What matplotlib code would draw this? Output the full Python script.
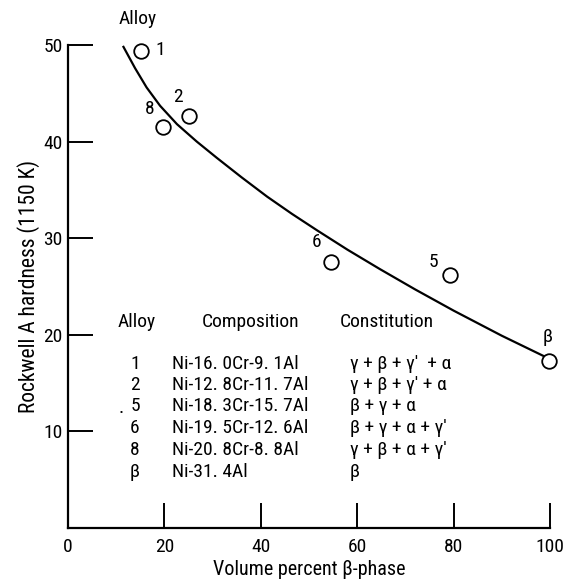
import matplotlib
matplotlib.use("Agg")
import matplotlib.pyplot as plt
from matplotlib import font_manager

# ---- data ----
alloy_ids = ["1", "8", "2", "6", "5", "β"]
vol_beta = [15.1, 19.7, 25.1, 54.6, 79.3, 99.8]
hardness = [49.4, 41.5, 42.6, 27.5, 26.2, 17.3]

curve_x = [11.5, 13.9, 16.3, 19.1, 22.6, 26.7, 30.9, 36, 41.3, 46.5, 51.7, 58, 64.7, 72, 80, 90, 99.5]
curve_y = [49.8, 47.6, 45.6, 43.7, 41.8, 40.0, 38.3, 36.3, 34.3, 32.5, 30.8, 28.8, 26.8, 24.7, 22.5, 19.9, 17.6]

table_alloy = ["1", "2", "5", "6", "8", "β"]
table_comp = ["Ni-16. 0Cr-9. 1Al", "Ni-12. 8Cr-11. 7Al", "Ni-18. 3Cr-15. 7Al",
              "Ni-19. 5Cr-12. 6Al", "Ni-20. 8Cr-8. 8Al", "Ni-31. 4Al"]
table_const = ["γ + β + γ'  + α", "γ + β + γ' + α", "β + γ + α",
               "β + γ + α + γ'", "γ + β + α + γ'", "β"]

xticks = [0, 20, 40, 60, 80, 100]
yticks = [10, 20, 30, 40, 50]

# ---- font ----
names = {f.name for f in font_manager.fontManager.ttflist}
fam = "Roboto Condensed" if "Roboto Condensed" in names else "Roboto"
plt.rcParams['font.family'] = [fam, 'DejaVu Sans']
fs = 14

fig = plt.figure(figsize=(5.67, 5.82), dpi=100)
ax = fig.add_axes([0.12, 0.0928, 0.85, 0.83])
ax.set_xlim(0, 100)
ax.set_ylim(0, 50)

ax.plot(curve_x, curve_y, color="black", lw=1.6, clip_on=False,
        solid_joinstyle="round")
ax.plot(vol_beta, hardness, linestyle="none", marker="o", ms=10.5,
        mfc="white", mec="black", mew=1.3, clip_on=False, zorder=3)

# point labels
lab_pos = {"1": (19.1, 49.5), "8": (17.0, 43.4), "2": (22.8, 44.6),
           "6": (51.5, 29.6), "5": (75.9, 27.5), "β": (99.6, 19.8)}
for k, (x, y) in lab_pos.items():
    ax.text(x, y, k, ha="center", va="center", fontsize=fs)
ax.text(14.5, 52.7, "Alloy", ha="center", va="center", fontsize=fs, clip_on=False)

# table
hy = 21.3
ax.text(14.3, hy, "Alloy", ha="center", va="center", fontsize=fs)
ax.text(37.8, hy, "Composition", ha="center", va="center", fontsize=fs)
ax.text(66.2, hy, "Constitution", ha="center", va="center", fontsize=fs)
row_y = [17.0, 14.8, 12.6, 10.4, 8.1, 5.8]
for a, c, s, y in zip(table_alloy, table_comp, table_const, row_y):
    ax.text(13.9, y, a, ha="center", va="center", fontsize=fs)
    ax.text(21.6, y, c, ha="left", va="center", fontsize=fs)
    ax.text(58.5, y, s, ha="left", va="center", fontsize=fs)
ax.text(11.0, 12.4, ".", ha="center", va="center", fontsize=fs)

# axes styling
for sp in ["top", "right"]:
    ax.spines[sp].set_visible(False)
for sp in ["left", "bottom"]:
    ax.spines[sp].set_linewidth(1.6)
ax.set_xticks(xticks)
ax.set_yticks(yticks)
ax.tick_params(axis="both", direction="in", length=18, width=1.4,
               labelsize=fs)
ax.tick_params(axis="x", pad=7)
ax.tick_params(axis="y", pad=4)
ax.set_xlabel("Volume percent β-phase", fontsize=fs + 0.5, labelpad=3)
ax.set_ylabel("Rockwell A hardness (1150 K)", fontsize=15.5, labelpad=2)

fig.savefig("out.png", dpi=100)
